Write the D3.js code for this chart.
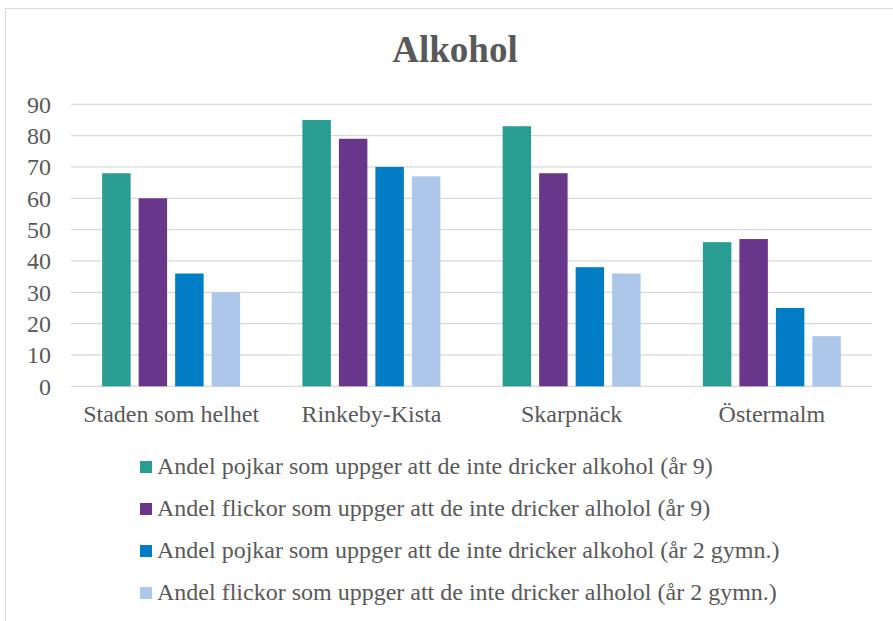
<!DOCTYPE html>
<html>
<head>
<meta charset="utf-8">
<script src="https://cdn.jsdelivr.net/npm/d3@7"></script>
<style>
  html, body { margin: 0; padding: 0; background: #fff; }
  svg { display: block; }
  svg text { font-family: "Liberation Serif", "Times New Roman", Times, serif !important; }
</style>
</head>
<body>
<script>
const categories = ["Staden som helhet", "Rinkeby-Kista", "Skarpnäck", "Östermalm"];
const seriesNames = [
  "Andel pojkar som uppger att de inte dricker alkohol (år 9)",
  "Andel flickor som uppger att de inte dricker alholol (år 9)",
  "Andel pojkar som uppger att de inte dricker alkohol (år 2 gymn.)",
  "Andel flickor som uppger att de inte dricker alholol (år 2 gymn.)"
];
const boys9 = [68, 85, 83, 46];
const girls9 = [60, 79, 68, 47];
const boysG2 = [36, 70, 38, 25];
const girlsG2 = [30, 67, 36, 16];
const seriesColors = ["#299D91", "#68368A", "#007DC4", "#ADC7EB"];
const yTicks = [0, 10, 20, 30, 40, 50, 60, 70, 80, 90];
const chartTitle = "Alkohol";

const seriesValues = [boys9, girls9, boysG2, girlsG2];

const W = 893, H = 621;
const svg = d3.select("body").append("svg").attr("width", W).attr("height", H);

// chart frame
svg.append("rect")
  .attr("x", 5.5).attr("y", 8.5)
  .attr("width", 950).attr("height", 700)
  .attr("fill", "#fff").attr("stroke", "#d9d9d9").attr("stroke-width", 1);

const plotLeft = 71, plotRight = 872, plotTop = 104.3, plotBottom = 386.3;

const y = d3.scaleLinear().domain([0, 90]).range([plotBottom, plotTop]);
const x0 = d3.scaleBand().domain(categories).range([plotLeft, plotRight])
  .paddingInner(0.311).paddingOuter(0.1555);
const x1 = d3.scaleBand().domain(d3.range(seriesNames.length))
  .range([0, x0.bandwidth()]).paddingInner(0.22).paddingOuter(0);

// gridlines
svg.append("g").selectAll("line").data(yTicks).join("line")
  .attr("x1", plotLeft).attr("x2", plotRight)
  .attr("y1", d => y(d)).attr("y2", d => y(d))
  .attr("stroke", "#d9d9d9").attr("stroke-width", 1.3);

// y axis labels
const yAxis = d3.axisLeft(y).tickValues(yTicks).tickSize(0).tickPadding(0);
const gy = svg.append("g").attr("transform", `translate(51,0)`).call(yAxis);
gy.attr("font-family", null).attr("font-size", null);
gy.select(".domain").remove();
gy.selectAll("text")
  .attr("font-size", 24).attr("fill", "#595959").attr("dy", "0.33em");

// bars
const groups = svg.append("g").selectAll("g").data(categories).join("g")
  .attr("transform", d => `translate(${x0(d)},0)`);
groups.selectAll("rect")
  .data((c, ci) => seriesValues.map((vals, si) => ({ si, v: vals[ci] })))
  .join("rect")
  .attr("x", d => x1(d.si))
  .attr("width", x1.bandwidth())
  .attr("y", d => y(d.v))
  .attr("height", d => y(0) - y(d.v))
  .attr("fill", d => seriesColors[d.si]);

// x axis labels
const xAxis = d3.axisBottom(x0).tickSize(0).tickPadding(0);
const gx = svg.append("g").attr("transform", `translate(0,${plotBottom})`).call(xAxis);
gx.attr("font-family", null).attr("font-size", null);
gx.select(".domain").remove();
gx.selectAll("text")
  .attr("font-size", 24).attr("fill", "#595959")
  .attr("y", 36).attr("dy", 0);

// title
svg.append("text")
  .attr("x", 455).attr("y", 62)
  .attr("text-anchor", "middle")
  .attr("font-size", 37).attr("font-weight", "bold")
  .attr("fill", "#595959")
  .text(chartTitle);

// legend
const legend = svg.append("g").selectAll("g").data(seriesNames).join("g")
  .attr("transform", (d, i) => `translate(140,${474 + i * 42})`);
legend.append("rect")
  .attr("x", 0).attr("y", -13).attr("width", 12).attr("height", 12)
  .attr("fill", (d, i) => seriesColors[i]);
legend.append("text")
  .attr("x", 17).attr("y", 0)
  .attr("font-size", 24).attr("fill", "#595959")
  .text(d => d);
</script>
</body>
</html>
